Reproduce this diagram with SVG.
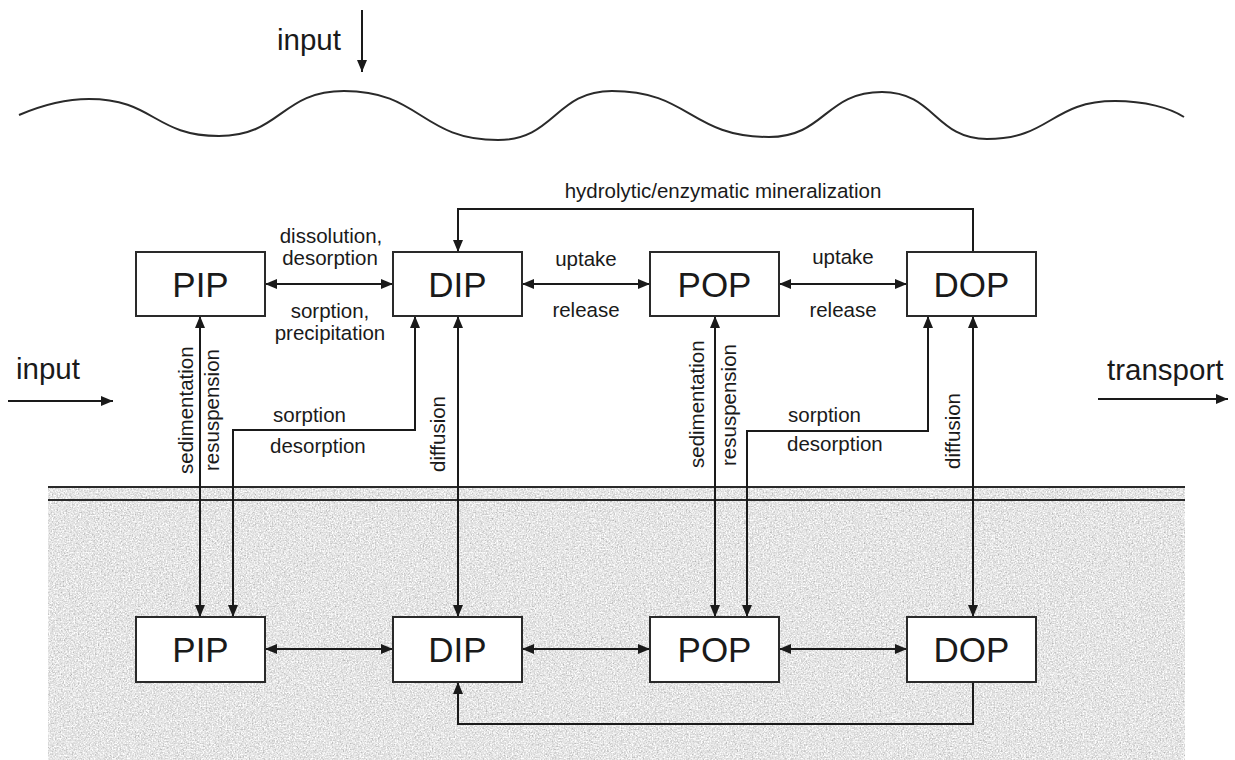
<svg xmlns="http://www.w3.org/2000/svg" width="1235" height="760" viewBox="0 0 1235 760">
  <defs>
    <marker id="head" viewBox="0 0 12 10" refX="12" refY="5" markerWidth="12" markerHeight="10" markerUnits="userSpaceOnUse" orient="auto-start-reverse">
      <path d="M0,0 L12,5 L0,10 Z" fill="#1a1a1a"/>
    </marker>
    <filter id="grain" x="0" y="0" width="100%" height="100%" color-interpolation-filters="sRGB">
      <feTurbulence type="fractalNoise" baseFrequency="0.65" numOctaves="3" seed="7" result="n"/>
      <feColorMatrix in="n" type="matrix" values="0.3 0.3 0.15 0 0.52  0.3 0.3 0.15 0 0.52  0.3 0.3 0.15 0 0.52  0 0 0 0 1" result="g"/>
      <feComposite in="g" in2="SourceGraphic" operator="in"/>
    </filter>
    <style>
      .box { fill: #ffffff; stroke: #2a2a2a; stroke-width: 2; }
      .lbl { font-family: "Liberation Sans", Arial, sans-serif; font-size: 35px; fill: #1a1a1a; text-anchor: middle; }
      .txt { font-family: "Liberation Sans", Arial, sans-serif; font-size: 20.5px; fill: #1a1a1a; }
      .mid { text-anchor: middle; }
      .big { font-family: "Liberation Sans", Arial, sans-serif; font-size: 29.5px; fill: #1a1a1a; }
      .conn { fill: none; stroke: #1a1a1a; stroke-width: 2; }
      .two { marker-start: url(#head); marker-end: url(#head); }
      .one { marker-end: url(#head); }
      .rule { stroke: #2a2a2a; stroke-width: 2; }
    </style>
  </defs>

  <rect width="1235" height="760" fill="#ffffff"/>

  <!-- sediment body with grainy fill and its surface lines -->
  <g id="sediment">
    <rect x="48" y="487" width="1137" height="273" fill="#d8d8d8" filter="url(#grain)"/>
    <line class="rule" x1="48" y1="487" x2="1185" y2="487"/>
    <line class="rule" x1="48" y1="500" x2="1185" y2="500"/>
  </g>

  <!-- water surface -->
  <path id="surface" d="M19,115 C40,106 65,99 89,99 C154,99 154,136 219,136 C281,136 281,91 344,91 C421,91 421,140 498,140 C555,140 555,91 612,91 C690,91 690,137 769,137 C825,137 825,92 882,92 C935,92 935,139 987,139 C1051,139 1051,101 1115,101 C1145,101 1170,108 1184,117" fill="none" stroke="#2a2a2a" stroke-width="2"/>

  <!-- external fluxes -->
  <g id="external">
    <text class="big" x="277" y="50">input</text>
    <line class="conn one" x1="362" y1="10" x2="362" y2="72"/>
    <text class="big" x="16" y="379">input</text>
    <line class="conn one" x1="8" y1="401" x2="113" y2="401"/>
    <text class="big" x="1107" y="380">transport</text>
    <line class="conn one" x1="1098" y1="399" x2="1228" y2="399"/>
  </g>

  <!-- connectors -->
  <g id="connectors">
    <!-- water column exchanges -->
    <line class="conn two" x1="265" y1="284" x2="393" y2="284"/>
    <line class="conn two" x1="522" y1="284" x2="650" y2="284"/>
    <line class="conn two" x1="779" y1="284" x2="907" y2="284"/>
    <path class="conn one" d="M973,252 V209 H458 V252"/>
    <!-- sediment exchanges -->
    <line class="conn two" x1="265" y1="649" x2="393" y2="649"/>
    <line class="conn two" x1="522" y1="649" x2="650" y2="649"/>
    <line class="conn two" x1="779" y1="649" x2="907" y2="649"/>
    <path class="conn one" d="M973,682 V724 H458 V682"/>
    <!-- water-sediment exchanges -->
    <line class="conn two" x1="200" y1="316" x2="200" y2="617"/>
    <path class="conn two" d="M415,316 V430 H233 V617"/>
    <line class="conn two" x1="458" y1="316" x2="458" y2="617"/>
    <line class="conn two" x1="715" y1="316" x2="715" y2="617"/>
    <path class="conn two" d="M928,316 V431 H747 V617"/>
    <line class="conn two" x1="973" y1="316" x2="973" y2="617"/>
  </g>

  <!-- connector labels -->
  <g id="labels">
    <text class="txt" x="723" y="198" text-anchor="middle">hydrolytic/enzymatic mineralization</text>
    <text class="txt mid" x="331" y="243">dissolution,</text>
    <text class="txt mid" x="330" y="265">desorption</text>
    <text class="txt mid" x="330" y="318">sorption,</text>
    <text class="txt mid" x="330" y="340">precipitation</text>
    <text class="txt mid" x="586" y="266">uptake</text>
    <text class="txt mid" x="586" y="317">release</text>
    <text class="txt mid" x="843" y="264">uptake</text>
    <text class="txt mid" x="843" y="317">release</text>
    <text class="txt" x="273" y="422">sorption</text>
    <text class="txt" x="270" y="453">desorption</text>
    <text class="txt" x="788" y="422">sorption</text>
    <text class="txt" x="787" y="451">desorption</text>
    <text class="txt" transform="translate(193,474) rotate(-90)">sedimentation</text>
    <text class="txt" transform="translate(219,471) rotate(-90)">resuspension</text>
    <text class="txt" transform="translate(445,472) rotate(-90)">diffusion</text>
    <text class="txt" transform="translate(704,468) rotate(-90)">sedimentation</text>
    <text class="txt" transform="translate(736,466) rotate(-90)">resuspension</text>
    <text class="txt" transform="translate(960,469) rotate(-90)">diffusion</text>
  </g>

  <!-- water column pools -->
  <g id="pip-water"><rect class="box" x="136" y="252" width="129" height="64"/><text class="lbl" x="200.5" y="297">PIP</text></g>
  <g id="dip-water"><rect class="box" x="393" y="252" width="129" height="64"/><text class="lbl" x="457.5" y="297">DIP</text></g>
  <g id="pop-water"><rect class="box" x="650" y="252" width="129" height="64"/><text class="lbl" x="714.5" y="297">POP</text></g>
  <g id="dop-water"><rect class="box" x="907" y="252" width="129" height="64"/><text class="lbl" x="971.5" y="297">DOP</text></g>

  <!-- sediment pools -->
  <g id="pip-sediment"><rect class="box" x="136" y="617" width="129" height="65"/><text class="lbl" x="200.5" y="662">PIP</text></g>
  <g id="dip-sediment"><rect class="box" x="393" y="617" width="129" height="65"/><text class="lbl" x="457.5" y="662">DIP</text></g>
  <g id="pop-sediment"><rect class="box" x="650" y="617" width="129" height="65"/><text class="lbl" x="714.5" y="662">POP</text></g>
  <g id="dop-sediment"><rect class="box" x="907" y="617" width="129" height="65"/><text class="lbl" x="971.5" y="662">DOP</text></g>
</svg>
